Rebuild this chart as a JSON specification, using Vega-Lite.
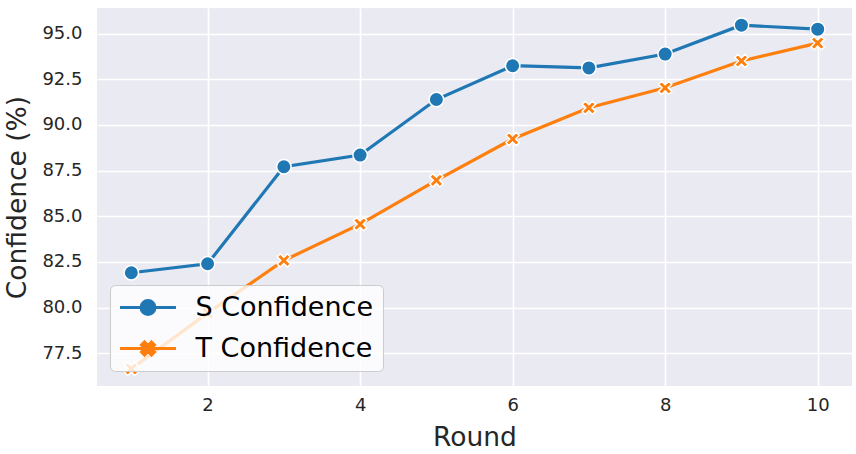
{
  "$schema": "https://vega.github.io/schema/vega-lite/v6.json",
  "width": 755,
  "height": 378,
  "autosize": {"type": "none"},
  "padding": {"left": 97, "top": 8, "right": 4, "bottom": 68},
  "background": "white",
  "data": {
    "values": [
      {"Round": 1, "Confidence": 81.91, "Series": "S Confidence"},
      {"Round": 2, "Confidence": 82.40, "Series": "S Confidence"},
      {"Round": 3, "Confidence": 87.71, "Series": "S Confidence"},
      {"Round": 4, "Confidence": 88.35, "Series": "S Confidence"},
      {"Round": 5, "Confidence": 91.39, "Series": "S Confidence"},
      {"Round": 6, "Confidence": 93.24, "Series": "S Confidence"},
      {"Round": 7, "Confidence": 93.12, "Series": "S Confidence"},
      {"Round": 8, "Confidence": 93.88, "Series": "S Confidence"},
      {"Round": 9, "Confidence": 95.46, "Series": "S Confidence"},
      {"Round": 10, "Confidence": 95.24, "Series": "S Confidence"},
      {"Round": 1, "Confidence": 76.65, "Series": "T Confidence"},
      {"Round": 2, "Confidence": 79.70, "Series": "T Confidence"},
      {"Round": 3, "Confidence": 82.58, "Series": "T Confidence"},
      {"Round": 4, "Confidence": 84.57, "Series": "T Confidence"},
      {"Round": 5, "Confidence": 86.97, "Series": "T Confidence"},
      {"Round": 6, "Confidence": 89.23, "Series": "T Confidence"},
      {"Round": 7, "Confidence": 90.94, "Series": "T Confidence"},
      {"Round": 8, "Confidence": 92.03, "Series": "T Confidence"},
      {"Round": 9, "Confidence": 93.50, "Series": "T Confidence"},
      {"Round": 10, "Confidence": 94.48, "Series": "T Confidence"}
    ]
  },
  "encoding": {
    "x": {
      "field": "Round", "type": "quantitative",
      "scale": {"domain": [0.55, 10.45], "nice": false, "zero": false},
      "axis": {"values": [2, 4, 6, 8, 10], "title": "Round", "format": "d"}
    },
    "y": {
      "field": "Confidence", "type": "quantitative",
      "scale": {"domain": [75.71, 96.40], "nice": false, "zero": false},
      "axis": {"values": [77.5, 80, 82.5, 85, 87.5, 90, 92.5, 95], "format": ".1f", "title": "Confidence (%)"}
    },
    "color": {
      "field": "Series", "type": "nominal",
      "scale": {"domain": ["S Confidence", "T Confidence"], "range": ["#1f77b4", "#ff7f0e"]},
      "legend": {
        "title": null,
        "orient": "none",
        "legendX": 13,
        "legendY": 277,
        "padding": 9,
        "fillColor": "rgba(255,255,255,0.8)",
        "strokeColor": "#cccccc",
        "cornerRadius": 5,
        "symbolSize": 576,
        "symbolStrokeWidth": 3,
        "symbolOffset": 15.5,
        "labelOffset": 34,
        "rowPadding": 13,
        "labelFont": "DejaVu Sans",
        "labelFontSize": 27,
        "labelColor": "#000000",
        "labelLimit": 400,
        "encode": {
          "symbols": {
            "update": {
              "shape": {"signal": "datum.value === 'S Confidence' ? 'M-2.33,0H2.33M-0.58,0A0.58,0.58 0 1,0 0.58,0A0.58,0.58 0 1,0 -0.58,0Z' : 'M-2.33,0H2.33M0.292,-0.542L0.542,-0.292L0.25,0L0.542,0.292L0.292,0.542L0,0.25L-0.292,0.542L-0.542,0.292L-0.25,0L-0.542,-0.292L-0.292,-0.542L0,-0.25Z'"},
              "fill": {"scale": "color", "field": "value"},
              "stroke": {"scale": "color", "field": "value"},
              "strokeWidth": {"value": 3},
              "opacity": {"value": 1},
              "fillOpacity": {"value": 1},
              "strokeOpacity": {"value": 1}
            }
          }
        }
      }
    }
  },
  "layer": [
    {
      "mark": {"type": "line", "strokeWidth": 3.2}
    },
    {
      "transform": [{"filter": "datum.Series === 'S Confidence'"}],
      "mark": {"type": "point", "shape": "circle", "filled": true, "opacity": 1, "stroke": "white", "strokeWidth": 1.5, "size": 210}
    },
    {
      "transform": [{"filter": "datum.Series === 'T Confidence'"}],
      "mark": {"type": "point", "shape": "M0.495,-0.919L0.919,-0.495L0.424,0L0.919,0.495L0.495,0.919L0,0.424L-0.495,0.919L-0.919,0.495L-0.424,0L-0.919,-0.495L-0.495,-0.919L0,-0.424Z", "filled": true, "opacity": 1, "stroke": "white", "strokeWidth": 1.5, "size": 210}
    }
  ],
  "config": {
    "view": {"fill": "#EAEAF2", "stroke": null},
    "font": "DejaVu Sans",
    "axis": {
      "domain": false,
      "ticks": false,
      "tickSize": 0,
      "grid": true,
      "gridColor": "#ffffff",
      "gridWidth": 1.6,
      "labelFont": "DejaVu Sans",
      "labelFontSize": 18,
      "labelColor": "#262626",
      "titleFont": "DejaVu Sans",
      "titleFontSize": 26.5,
      "titleFontWeight": "normal",
      "titleColor": "#262626"
    },
    "axisX": {"labelPadding": 10, "titlePadding": 10},
    "axisY": {"labelPadding": 15, "titlePadding": 10}
  }
}
